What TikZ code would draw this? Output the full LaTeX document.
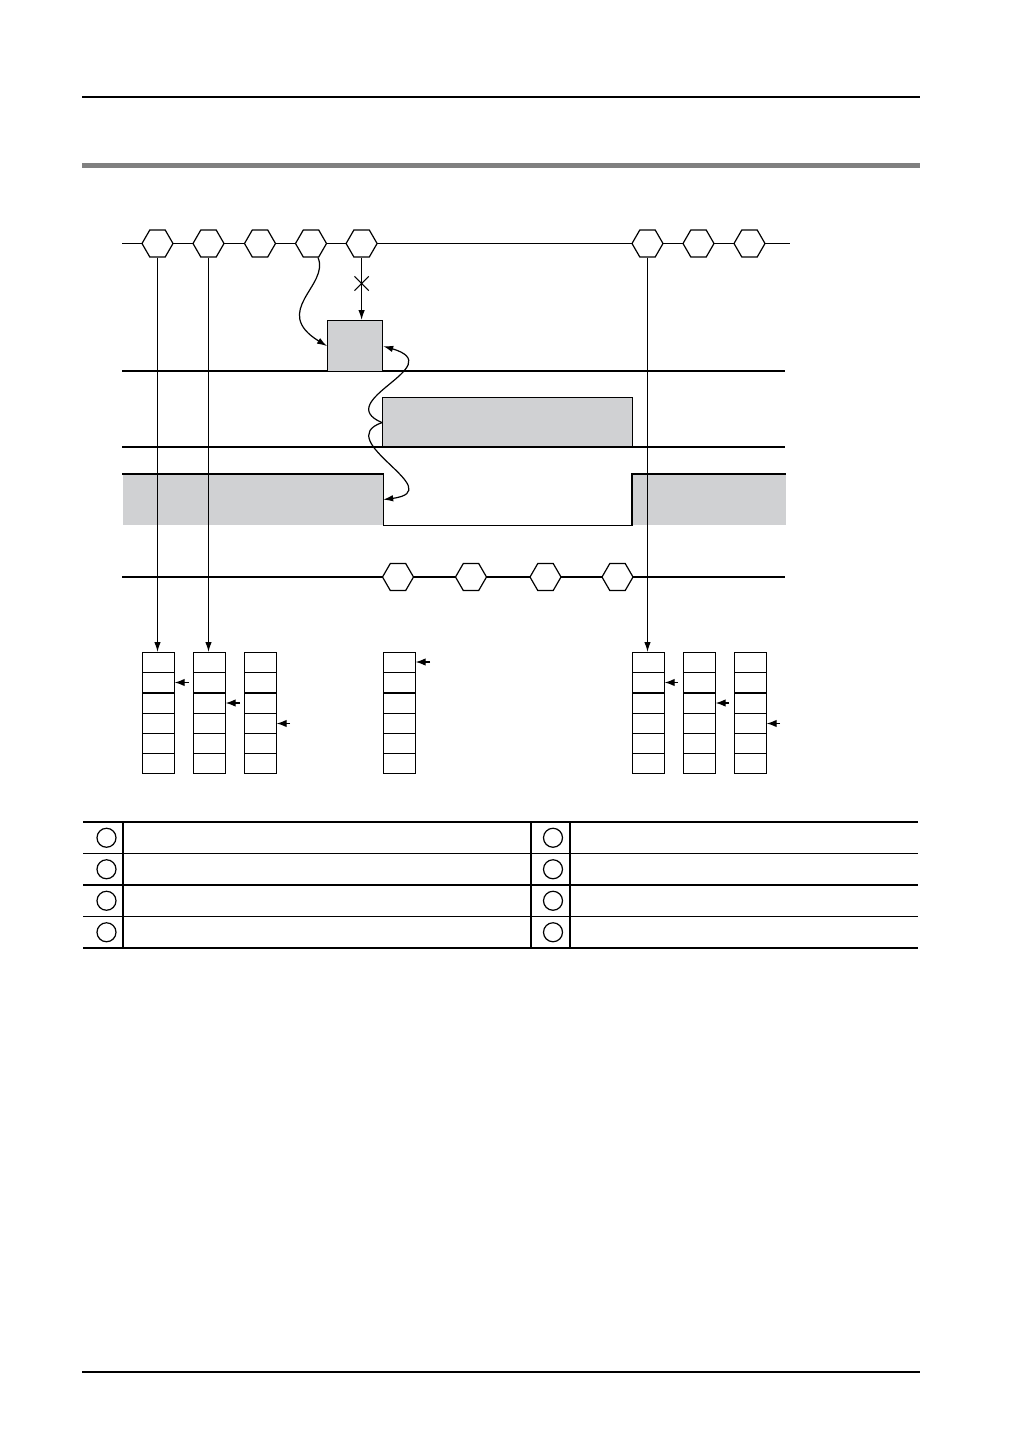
\documentclass[tikz,border=0pt]{standalone}
\usepackage{tikz}
\usepackage{xcolor}
\usetikzlibrary{shapes,arrows.meta,positioning,calc}
\definecolor{sig-gray}{RGB}{208, 209, 211}
\definecolor{bar-gray}{RGB}{128, 128, 128}
\tikzstyle{a}=[anchor=north west]
\tikzstyle{hex}=[draw,fill=white,regular polygon,regular polygon sides=6,minimum size=31pt,inner sep=0pt]
\tikzstyle{pulse}=[a,draw,rectangle,fill=sig-gray,inner sep=0pt]
\tikzstyle{idle}=[a,rectangle,fill=sig-gray,inner sep=0pt]
\tikzstyle{reg}=[a,draw,rectangle split,rectangle split parts=6,rectangle split empty part height=19pt,rectangle split empty part depth=0pt,rectangle split empty part width=27.2pt,inner sep=0pt]
\tikzstyle{arrow}=[draw,-{Latex[length=10pt,width=6.5pt]}]
\tikzstyle{ptr}=[draw,-{Latex[length=10pt,width=7.5pt]}]
\tikzstyle{xcross}=[draw,cross out,minimum size=13pt,inner sep=0pt]
\tikzstyle{bullet}=[draw,circle,minimum size=19pt,inner sep=0pt]
\tikzstyle{rule}=[line width=1.8pt]

\begin{document}
\begin{tikzpicture}[x=1pt,y=-1pt,line width=1.2pt]
    \useasboundingbox (0,0) rectangle (1030,1456);

    % page rules
    \draw (82,97) -- (920,97);
    \draw[bar-gray,line width=5pt] (82,165.5) -- (920,165.5);
    \draw (82,1372) -- (920,1372);

    % shaded levels
    \node[pulse, minimum width=55pt, minimum height=51pt] at (327,320) (pulse1) {};
    \node[pulse, minimum width=250pt, minimum height=50pt] at (382,397) (pulse2) {};
    \node[idle, minimum width=260pt, minimum height=50pt] at (122,474) (idleL) {};
    \node[idle, minimum width=153pt, minimum height=50pt] at (632,474) (idleR) {};

    \draw (122,371) -- (327,371);
    \draw (382,371) -- (785,371);
    \draw (122,447) -- (785,447);
    \draw (idleL.north west) -- (idleL.north east) -- (idleL.south east) -- (idleR.south west) -- (idleR.north west) -- (idleR.north east);

    % upper bus
    \draw (122,243.5) -- (790,243.5);
    \node[hex] at (157.5,243.5) (h1) {};
    \node[hex] at (208.5,243.5) (h2) {};
    \node[hex] at (260,243.5) (h3) {};
    \node[hex] at (311,243.5) (h4) {};
    \node[hex] at (361.6,243.5) (h5) {};
    \node[hex] at (647.5,243.5) (h6) {};
    \node[hex] at (698.5,243.5) (h7) {};
    \node[hex] at (749.5,243.5) (h8) {};

    % lower bus
    \draw (122,577) -- (785,577);
    \node[hex] at (398,577) (b1) {};
    \node[hex] at (471,577) (b2) {};
    \node[hex] at (545.5,577) (b3) {};
    \node[hex] at (617.5,577) (b4) {};

    % registers
    \node[reg] at (142,652) (reg1) {};
    \node[reg] at (193,652) (reg2) {};
    \node[reg] at (244,652) (reg3) {};
    \node[reg] at (383,652) (reg4) {};
    \node[reg] at (632,652) (reg5) {};
    \node[reg] at (683,652) (reg6) {};
    \node[reg] at (734,652) (reg7) {};

    \draw[arrow] (h1.south) -- (h1.south|-reg1.north);
    \draw[arrow] (h2.south) -- (h2.south|-reg2.north);
    \draw[arrow] (h6.south) -- (h6.south|-reg5.north);

    \node[xcross] at (361.6,283.5) (xm) {};
    \draw[arrow] (h5.south) -- (h5.south|-pulse1.north);

    \draw[arrow] ([xshift=7pt]h4.south) .. controls +(12,28) and +(-57,-35) .. (pulse1.west);
    \draw[arrow] (pulse2.west) .. controls +(-52,-22) and +(68,20) .. (pulse1.east);
    \draw[arrow] (pulse2.west) .. controls +(-52,18) and +(68,-9) .. (idleL.east);

    % register pointers
    \coordinate (p1) at (189,682.5);
    \coordinate (p2) at (240,703);
    \coordinate (p3) at (290,723.5);
    \coordinate (p4) at (430,662);
    \coordinate (p5) at (678,682.5);
    \coordinate (p6) at (729,703);
    \coordinate (p7) at (780,723.5);
    \draw[ptr] (p1) -- (p1-|reg1.east);
    \draw[ptr] (p2) -- (p2-|reg2.east);
    \draw[ptr] (p3) -- (p3-|reg3.east);
    \draw[ptr] (p4) -- (p4-|reg4.east);
    \draw[ptr] (p5) -- (p5-|reg5.east);
    \draw[ptr] (p6) -- (p6-|reg6.east);
    \draw[ptr] (p7) -- (p7-|reg7.east);

    % legend table
    \draw (83,822) -- (918,822);
    \draw (83,853.5) -- (918,853.5);
    \draw (83,885) -- (918,885);
    \draw (83,916.5) -- (918,916.5);
    \draw (83,948) -- (918,948);
    \draw[rule] (123,822) -- (123,948);
    \draw[rule] (531,822) -- (531,948);
    \draw (570,822) -- (570,948);

    \node[bullet] at (106.5,837.75) (c1) {};
    \node[bullet] at (106.5,869.25) (c2) {};
    \node[bullet] at (106.5,900.75) (c3) {};
    \node[bullet] at (106.5,932.25) (c4) {};
    \node[bullet] at (553,837.75) (c5) {};
    \node[bullet] at (553,869.25) (c6) {};
    \node[bullet] at (553,900.75) (c7) {};
    \node[bullet] at (553,932.25) (c8) {};
\end{tikzpicture}
\end{document}
